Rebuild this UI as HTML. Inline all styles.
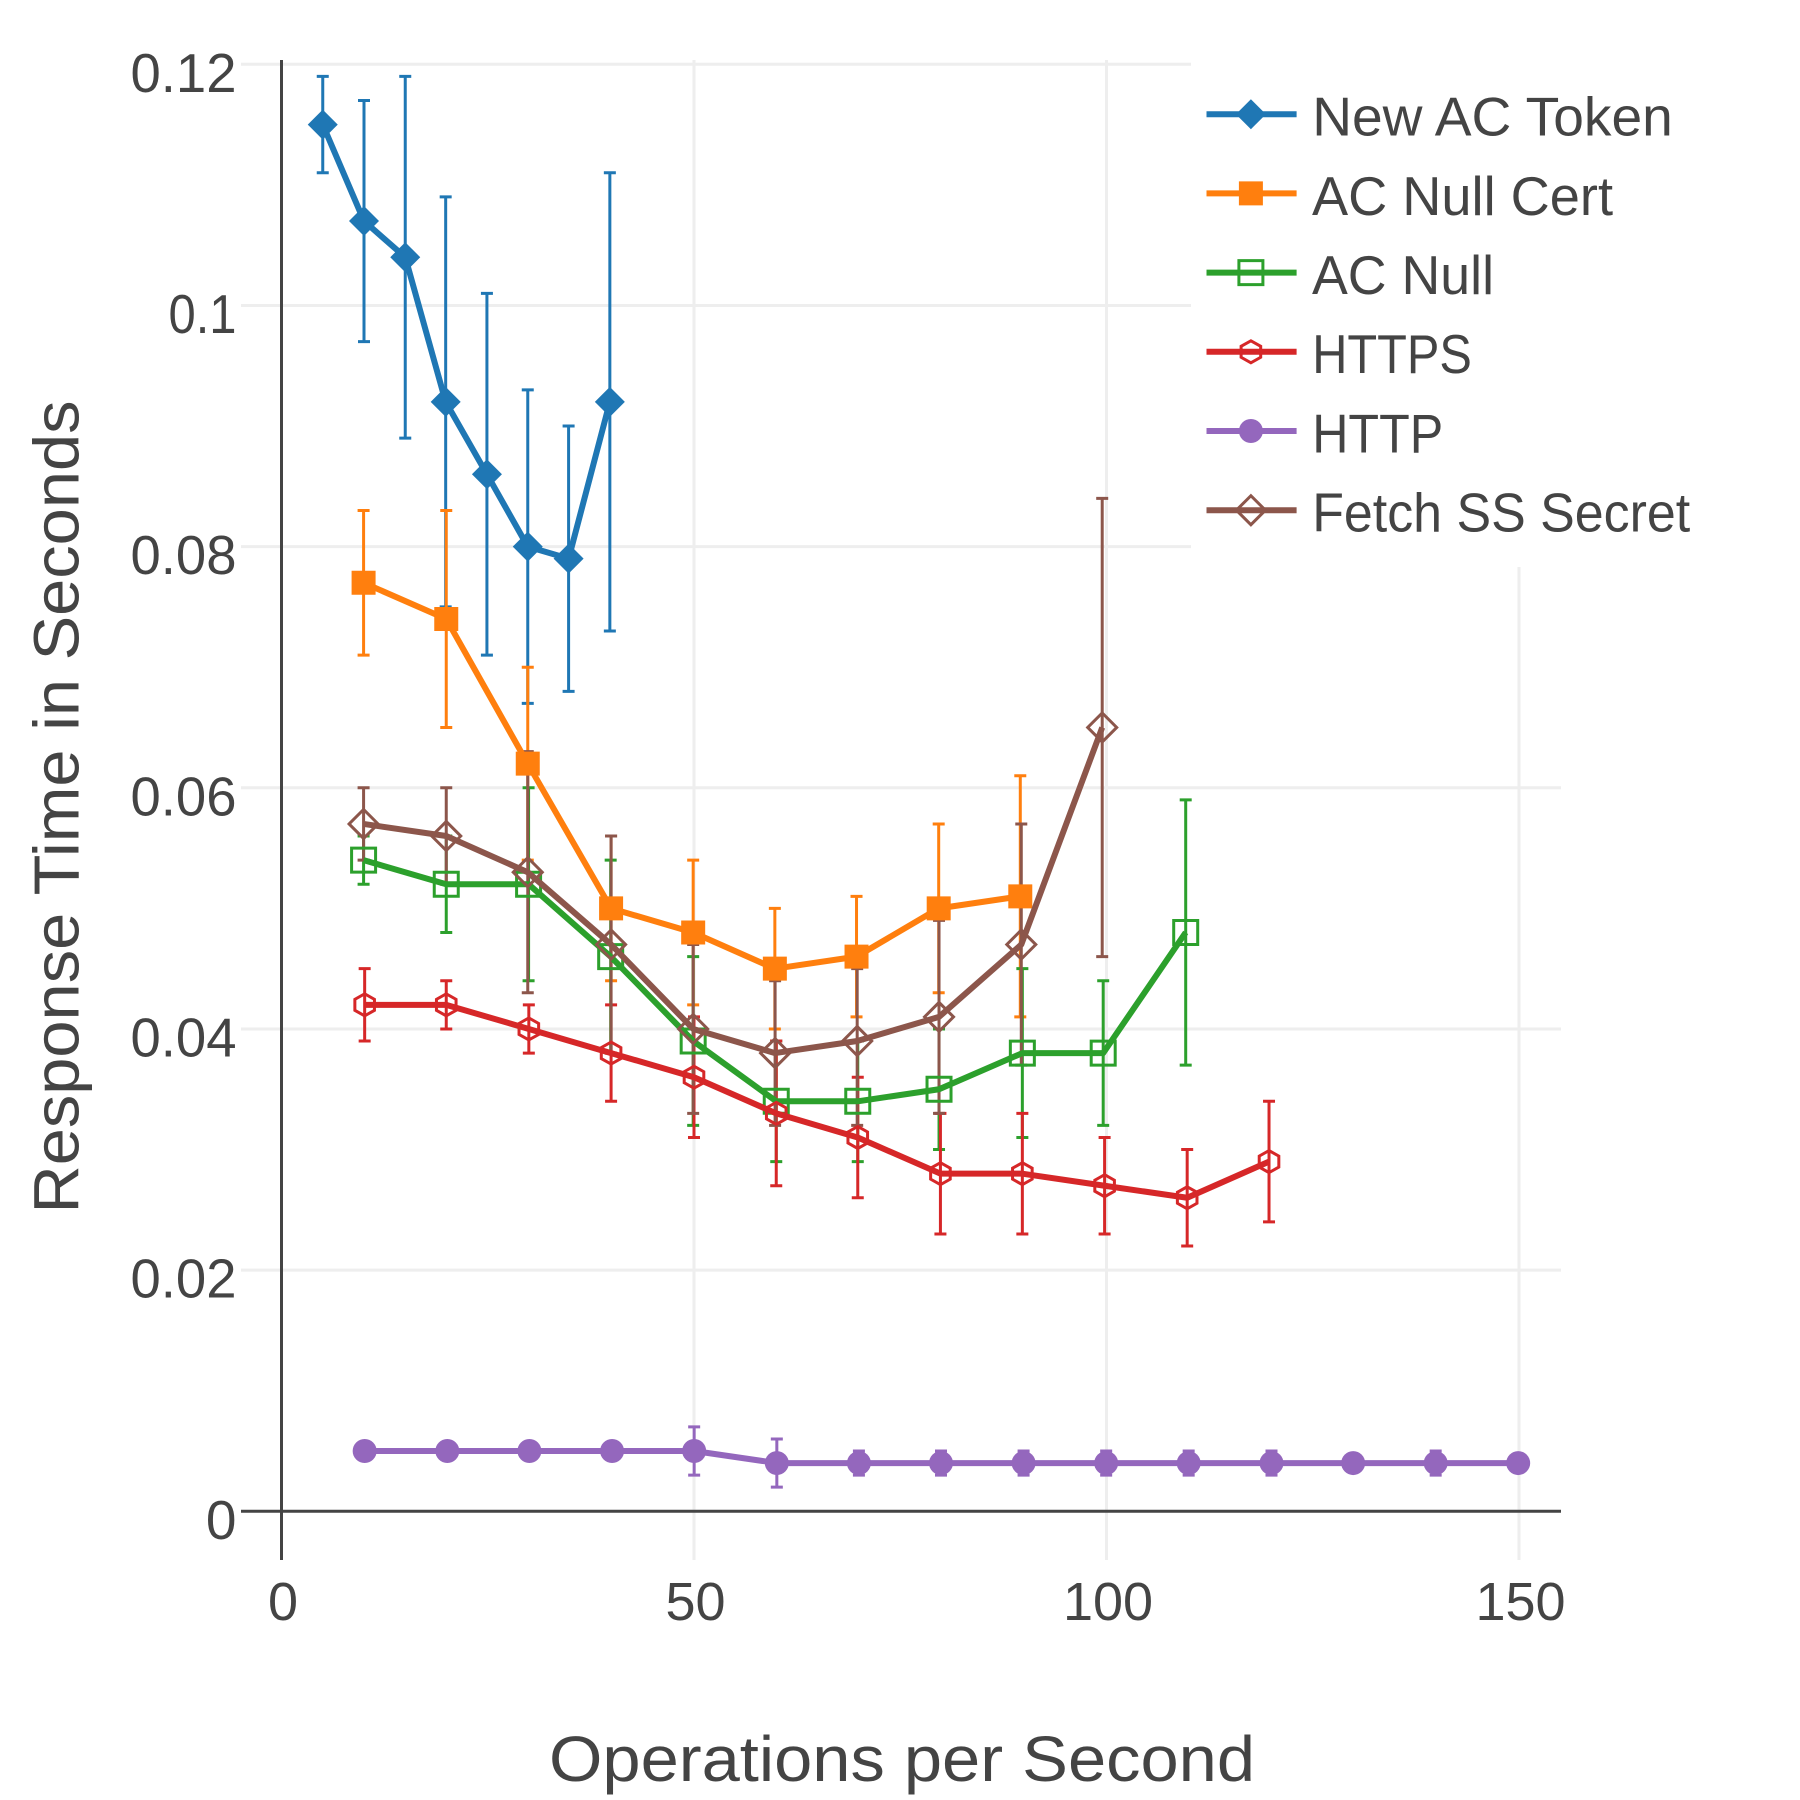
<!DOCTYPE html>
<html lang="en">
<head>
<meta charset="utf-8">
<title>Response Time vs Operations per Second</title>
<style>
html,body{margin:0;padding:0;background:#fff;width:1800px;height:1800px;overflow:hidden}
svg{display:block}
text{font-family:"Liberation Sans",sans-serif;fill:#444}
</style>
</head>
<body>
<svg id="chart" xmlns="http://www.w3.org/2000/svg" width="1800" height="1800" viewBox="0 0 1800 1800">
  <rect x="0" y="0" width="1800" height="1800" fill="#fff"/>
  <g id="grid"></g>
  <g id="axes"></g>
  <g id="errors"></g>
  <g id="traces"></g>
  <g id="legend"></g>
  <text x="902" y="1781" font-size="64" text-anchor="middle" textLength="706" lengthAdjust="spacingAndGlyphs">Operations per Second</text>
  <text transform="translate(78.6,807) rotate(-90)" font-size="64" text-anchor="middle" textLength="813" lengthAdjust="spacingAndGlyphs">Response Time in Seconds</text>
</svg>
<script>
// ---- chart data ----
const xTickValues = [0, 50, 100, 150];
const xTickLabels = ['0', '50', '100', '150'];
const yTickValues = [0, 0.02, 0.04, 0.06, 0.08, 0.1, 0.12];
const yTickLabels = ['0', '0.02', '0.04', '0.06', '0.08', '0.1', '0.12'];

const tokenX = [5, 10, 15, 19.9, 24.9, 29.85, 34.8, 39.8];
const tokenY = [0.115, 0.107, 0.104, 0.092, 0.086, 0.08, 0.079, 0.092];
const tokenHigh = [0.119, 0.117, 0.119, 0.109, 0.101, 0.093, 0.09, 0.111];
const tokenLow = [0.111, 0.097, 0.089, 0.075, 0.071, 0.067, 0.068, 0.073];

const certX = [9.95, 19.97, 29.85, 39.95, 49.9, 59.8, 69.7, 79.66, 89.55];
const certY = [0.077, 0.074, 0.062, 0.05, 0.048, 0.045, 0.046, 0.05, 0.051];
const certHigh = [0.083, 0.083, 0.07, 0.056, 0.054, 0.05, 0.051, 0.057, 0.061];
const certLow = [0.071, 0.065, 0.054, 0.044, 0.042, 0.04, 0.041, 0.043, 0.041];

const nullX = [9.95, 19.97, 29.95, 39.9, 49.9, 59.97, 69.85, 79.7, 89.8, 99.6, 109.6];
const nullY = [0.054, 0.052, 0.052, 0.046, 0.039, 0.034, 0.034, 0.035, 0.038, 0.038, 0.048];
const nullHigh = [0.056, 0.056, 0.06, 0.054, 0.046, 0.039, 0.039, 0.04, 0.045, 0.044, 0.059];
const nullLow = [0.052, 0.048, 0.044, 0.038, 0.032, 0.029, 0.029, 0.03, 0.031, 0.032, 0.037];

const httpsX = [10.08, 19.97, 29.98, 39.95, 50, 59.97, 69.85, 79.87, 89.8, 99.77, 109.78, 119.7];
const httpsY = [0.042, 0.042, 0.04, 0.038, 0.036, 0.033, 0.031, 0.028, 0.028, 0.027, 0.026, 0.029];
const httpsHigh = [0.045, 0.044, 0.042, 0.042, 0.041, 0.039, 0.036, 0.033, 0.033, 0.031, 0.03, 0.034];
const httpsLow = [0.039, 0.04, 0.038, 0.034, 0.031, 0.027, 0.026, 0.023, 0.023, 0.023, 0.022, 0.024];

const httpX = [10.08, 20.1, 30.05, 40.07, 50.02, 60.04, 69.99, 79.94, 89.95, 99.96, 109.96, 120, 129.9, 139.9, 149.9];
const httpY = [0.005, 0.005, 0.005, 0.005, 0.005, 0.004, 0.004, 0.004, 0.004, 0.004, 0.004, 0.004, 0.004, 0.004, 0.004];
const httpHigh = [0.005, 0.005, 0.005, 0.005, 0.007, 0.006, 0.005, 0.005, 0.005, 0.005, 0.005, 0.005, 0.004, 0.005, 0.004];
const httpLow = [0.005, 0.005, 0.005, 0.005, 0.003, 0.002, 0.003, 0.003, 0.003, 0.003, 0.003, 0.003, 0.004, 0.003, 0.004];

const secretX = [9.95, 19.97, 29.85, 39.95, 49.9, 59.83, 69.78, 79.7, 89.67, 99.48];
const secretY = [0.057, 0.056, 0.053, 0.047, 0.04, 0.038, 0.039, 0.041, 0.047, 0.065];
const secretHigh = [0.06, 0.06, 0.063, 0.056, 0.047, 0.044, 0.045, 0.049, 0.057, 0.084];
const secretLow = [0.054, 0.052, 0.043, 0.038, 0.033, 0.032, 0.032, 0.033, 0.037, 0.046];

const seriesNames = ['New AC Token', 'AC Null Cert', 'AC Null', 'HTTPS', 'HTTP', 'Fetch SS Secret'];

// ---- appearance ----
const seriesList = [
  {key:'new-ac-token', x:tokenX, y:tokenY, hi:tokenHigh, lo:tokenLow, color:'#1f77b4', symbol:'diamond', tx:1312.2, tw:360.6},
  {key:'ac-null-cert', x:certX, y:certY, hi:certHigh, lo:certLow, color:'#ff7f0e', symbol:'square', tx:1312, tw:301},
  {key:'ac-null', x:nullX, y:nullY, hi:nullHigh, lo:nullLow, color:'#2ca02c', symbol:'square-open', tx:1312, tw:182},
  {key:'https', x:httpsX, y:httpsY, hi:httpsHigh, lo:httpsLow, color:'#d62728', symbol:'hexagon-open', tx:1312.2, tw:159.7},
  {key:'http', x:httpX, y:httpY, hi:httpHigh, lo:httpLow, color:'#9467bd', symbol:'circle', tx:1312.2, tw:131},
  {key:'fetch-ss-secret', x:secretX, y:secretY, hi:secretHigh, lo:secretLow, color:'#8c564b', symbol:'diamond-open', tx:1312.2, tw:378}
];

const NS = 'http://www.w3.org/2000/svg';
const plotLeft = 241, plotRight = 1561, plotTop = 60, plotBottom = 1560;
const sx = v => 281.5 + v * 8.25;
const sy = v => 1511.3 - v * 12058.5;

function make(tag, attrs, parent) {
  const node = document.createElementNS(NS, tag);
  for (const k in attrs) node.setAttribute(k, attrs[k]);
  parent.appendChild(node);
  return node;
}

function drawMarker(parent, symbol, color, cx, cy) {
  const open = symbol.endsWith('-open');
  const paint = open
    ? {fill:'none', stroke:color, 'stroke-width':3, 'stroke-linejoin':'miter'}
    : {fill:color, stroke:'none'};
  const t = 'translate(' + cx + ',' + cy + ')';
  let shape;
  if (symbol === 'circle') {
    shape = make('circle', Object.assign({cx:cx, cy:cy, r:12}, paint), parent);
  } else if (symbol === 'square') {
    shape = make('path', Object.assign({d:'M-12,-12H12V12H-12Z', transform:t}, paint), parent);
  } else if (symbol === 'square-open') {
    shape = make('path', Object.assign({d:'M-12,-12H12V12H-12Z', transform:t}, paint), parent);
  } else if (symbol === 'diamond') {
    shape = make('path', Object.assign({d:'M-15,0L0,-15L15,0L0,15Z', transform:t}, paint), parent);
  } else if (symbol === 'diamond-open') {
    shape = make('path', Object.assign({d:'M-14.5,0L0,-14.5L14.5,0L0,14.5Z', transform:t}, paint), parent);
  } else {
    shape = make('path', Object.assign({d:'M0,-11L9.8,-5.5V5.5L0,11L-9.8,5.5V-5.5Z', transform:t}, paint), parent);
  }
  return shape;
}

// ---- grid ----
const gridG = document.getElementById('grid');
xTickValues.forEach((v, i) => {
  if (v === 0) return;
  const gridV = make('line', {x1:sx(v), x2:sx(v), y1:plotTop, y2:plotBottom, stroke:'#eee', 'stroke-width':3}, gridG);
  
  
});
yTickValues.forEach((v, i) => {
  if (v === 0) return;
  const gridH = make('line', {x1:plotLeft, x2:plotRight, y1:sy(v), y2:sy(v), stroke:'#eee', 'stroke-width':3}, gridG);
  
  
});

// ---- axes ----
const axesG = document.getElementById('axes');
const xZero = make('line', {x1:plotLeft, x2:plotRight, y1:sy(0), y2:sy(0), stroke:'#444', 'stroke-width':3}, axesG);


const yZero = make('line', {x1:sx(0), x2:sx(0), y1:plotTop, y2:plotBottom, stroke:'#444', 'stroke-width':3}, axesG);



xTickValues.forEach((v, i) => {
  const tick = make('text', {x:sx(v) + 1.5, y:1620, 'font-size':54, 'text-anchor':'middle'}, axesG);
  tick.textContent = xTickLabels[i];
  
  
});
yTickValues.forEach((v, i) => {
  const tick = make('text', {x:236.5, y:sy(v) + 27.5, 'font-size':55, 'text-anchor':'end', lengthAdjust:'spacingAndGlyphs'}, axesG);
  const chars = yTickLabels[i].length;
  if (chars === 4) tick.setAttribute('textLength', 106);
  if (chars === 3) tick.setAttribute('textLength', 68);
  tick.textContent = yTickLabels[i];
  
  
});

// ---- error bars (all beneath every trace) ----
const errorsG = document.getElementById('errors');
seriesList.forEach(s => {
  const g = make('g', {fill:'none', stroke:s.color, 'stroke-width':3}, errorsG);
  
  
  s.x.forEach((xv, i) => {
    const px = sx(xv), top = sy(s.hi[i]), bot = sy(s.lo[i]);
    const bar = make('path', {d:'M' + (px - 6) + ',' + top + 'H' + (px + 6) + 'M' + px + ',' + top + 'V' + bot + 'M' + (px - 6) + ',' + bot + 'H' + (px + 6)}, g);
    
    
  });
});

// ---- traces ----
const tracesG = document.getElementById('traces');
seriesList.forEach(s => {
  const g = make('g', {}, tracesG);
  
  
  const pts = s.x.map((xv, i) => sx(xv) + ',' + sy(s.y[i])).join(' ');
  const line = make('polyline', {points:pts, fill:'none', stroke:s.color, 'stroke-width':6, 'stroke-linejoin':'round'}, g);
  
  
  s.x.forEach((xv, i) => {
    const m = drawMarker(g, s.symbol, s.color, sx(xv), sy(s.y[i]));
    
    
  });
});

// ---- legend ----
const legendG = document.getElementById('legend');
const legendBg = make('rect', {x:1191, y:0, width:609, height:567, fill:'#fff'}, legendG);


seriesList.forEach((s, i) => {
  const rowY = 114.2 + i * 79.2;
  const row = make('g', {}, legendG);
  
  
  const swatch = make('line', {x1:1206.5, x2:1296.6, y1:rowY, y2:rowY, stroke:s.color, 'stroke-width':6}, row);
  
  
  const mark = drawMarker(row, s.symbol, s.color, 1250.9, rowY);
  
  
  const label = make('text', {x:s.tx, y:rowY + 21.4, 'font-size':55, textLength:s.tw, lengthAdjust:'spacingAndGlyphs'}, row);
  label.textContent = seriesNames[i];
  
  
});
</script>
</body>
</html>
